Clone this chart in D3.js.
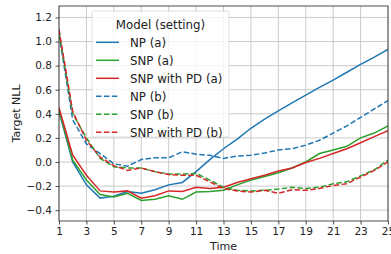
<!DOCTYPE html>
<html>
<head>
<meta charset="utf-8">
<script src="https://cdn.jsdelivr.net/npm/d3@7"></script>
<style>
  body { margin: 0; background: #fff; }
  text { font-family: "DejaVu Sans", sans-serif; fill: #222; }
</style>
</head>
<body>
<div id="chart"></div>
<script>
// Data
const time = d3.range(1, 26);
const npA      = [0.42, 0.00, -0.19, -0.30, -0.285, -0.245, -0.26, -0.23, -0.19, -0.17, -0.08, 0.02, 0.11, 0.19, 0.28, 0.355, 0.425, 0.49, 0.555, 0.62, 0.68, 0.745, 0.81, 0.87, 0.935];
const snpA     = [0.43, 0.015, -0.15, -0.27, -0.29, -0.26, -0.32, -0.31, -0.28, -0.31, -0.25, -0.245, -0.235, -0.19, -0.15, -0.12, -0.09, -0.05, 0.00, 0.07, 0.10, 0.13, 0.20, 0.24, 0.30];
const snpPdA   = [0.45, 0.057, -0.11, -0.24, -0.25, -0.24, -0.30, -0.28, -0.24, -0.245, -0.21, -0.22, -0.21, -0.17, -0.14, -0.11, -0.075, -0.05, -0.005, 0.03, 0.07, 0.11, 0.16, 0.21, 0.26];
const npB      = [1.06, 0.35, 0.15, 0.07, -0.015, -0.035, 0.02, 0.035, 0.035, 0.085, 0.065, 0.055, 0.03, 0.05, 0.055, 0.075, 0.10, 0.11, 0.14, 0.18, 0.24, 0.30, 0.37, 0.44, 0.51];
const snpB     = [1.08, 0.40, 0.20, 0.03, -0.04, -0.05, -0.05, -0.08, -0.10, -0.10, -0.095, -0.15, -0.21, -0.235, -0.24, -0.235, -0.225, -0.21, -0.22, -0.21, -0.18, -0.165, -0.115, -0.065, 0.015];
const snpPdB   = [1.10, 0.42, 0.18, 0.04, -0.03, -0.07, -0.05, -0.08, -0.105, -0.11, -0.11, -0.165, -0.22, -0.24, -0.25, -0.235, -0.26, -0.23, -0.235, -0.22, -0.195, -0.18, -0.125, -0.07, 0.0];

const xTicks = d3.range(1, 26, 2);
const yTicks = [-0.4, -0.2, 0.0, 0.2, 0.4, 0.6, 0.8, 1.0, 1.2];

const series = [
  { name: "NP (a)", values: npA, color: "#1f77b4", dashed: false },
  { name: "SNP (a)", values: snpA, color: "#2ca02c", dashed: false },
  { name: "SNP with PD (a)", values: snpPdA, color: "#d62728", dashed: false },
  { name: "NP (b)", values: npB, color: "#1f77b4", dashed: true },
  { name: "SNP (b)", values: snpB, color: "#2ca02c", dashed: true },
  { name: "SNP with PD (b)", values: snpPdB, color: "#d62728", dashed: true }
];

// Dimensions:
const width = 391, height = 254;
const margin = { top: 6, left: 59, right: 3, bottom: 33 };
const plotWidth = width - margin.left - margin.right;
const plotHeight = height - margin.top - margin.bottom;

const svg = d3.select("#chart").append("svg")
  .attr("width", width)
  .attr("height", height);

const g = svg.append("g")
  .attr("transform", "translate(" + [margin.left, margin.top] + ")");

// Scales:
const xScale = d3.scaleLinear().domain([1, 25]).range([0, plotWidth]);
const yScale = d3.scaleLinear().domain([-0.49, 1.295]).range([plotHeight, 0]);

// Grid
g.append("g").selectAll("line").data(xTicks).enter().append("line")
  .attr("x1", d => xScale(d)).attr("x2", d => xScale(d))
  .attr("y1", 0).attr("y2", plotHeight)
  .attr("stroke", "#cbcbcb").attr("stroke-width", 1);
g.append("g").selectAll("line").data(yTicks).enter().append("line")
  .attr("y1", d => yScale(d)).attr("y2", d => yScale(d))
  .attr("x1", 0).attr("x2", plotWidth)
  .attr("stroke", "#cbcbcb").attr("stroke-width", 1);

// Lines
const line = d3.line()
  .x((d, i) => xScale(time[i]))
  .y(d => yScale(d));

g.append("defs").append("clipPath").attr("id", "clip")
  .append("rect").attr("width", plotWidth).attr("height", plotHeight);

g.append("g").attr("clip-path", "url(#clip)")
  .selectAll("path").data(series).enter().append("path")
  .attr("d", d => line(d.values))
  .attr("fill", "none")
  .attr("stroke", d => d.color)
  .attr("stroke-width", 1.5)
  .attr("stroke-dasharray", d => d.dashed ? "5.5,2.4" : null);

// Axes
const fmt = d3.format(".1f");
const xAxis = g.append("g")
  .attr("transform", "translate(" + [0, plotHeight] + ")")
  .call(d3.axisBottom(xScale).tickValues(xTicks).tickSize(3.5).tickPadding(3.5).tickSizeOuter(0));
const yAxis = g.append("g")
  .call(d3.axisLeft(yScale).tickValues(yTicks).tickFormat(fmt).tickSize(3.5).tickPadding(3.5).tickSizeOuter(0));
[xAxis, yAxis].forEach(a => {
  a.select(".domain").remove();
  a.selectAll("line").attr("stroke", "#222").attr("stroke-width", 0.8);
  a.selectAll("text").attr("font-size", 10.5).attr("fill", "#222").style("font-family", "DejaVu Sans");
});

// Frame
g.append("rect")
  .attr("width", plotWidth).attr("height", plotHeight)
  .attr("fill", "none").attr("stroke", "#222").attr("stroke-width", 0.8);

// Axis labels
svg.append("text")
  .attr("x", margin.left + plotWidth / 2).attr("y", 250)
  .attr("text-anchor", "middle").attr("font-size", 11)
  .text("Time");
svg.append("text")
  .attr("transform", "translate(" + [20, margin.top + plotHeight / 2] + ") rotate(-90)")
  .attr("text-anchor", "middle").attr("font-size", 11)
  .text("Target NLL");

// Legend
const legend = svg.append("g").attr("transform", "translate(92,11)");
legend.append("rect")
  .attr("width", 137).attr("height", 126).attr("rx", 2)
  .attr("fill", "#fff").attr("fill-opacity", 0.8)
  .attr("stroke", "#d6d6d6").attr("stroke-width", 0.8);
legend.append("text")
  .attr("x", 68.5).attr("y", 17.5).attr("text-anchor", "middle")
  .attr("font-size", 11.8).text("Model (setting)");
const items = legend.selectAll(".item").data(series).enter().append("g")
  .attr("transform", (d, i) => "translate(0," + (31.3 + i * 18) + ")");
items.append("line")
  .attr("x1", 4).attr("x2", 27)
  .attr("stroke", d => d.color).attr("stroke-width", 1.5)
  .attr("stroke-dasharray", d => d.dashed ? "5.5,2.4" : null);
items.append("text")
  .attr("x", 38).attr("y", 4.2)
  .attr("font-size", 11.8)
  .text(d => d.name);
</script>
</body>
</html>
